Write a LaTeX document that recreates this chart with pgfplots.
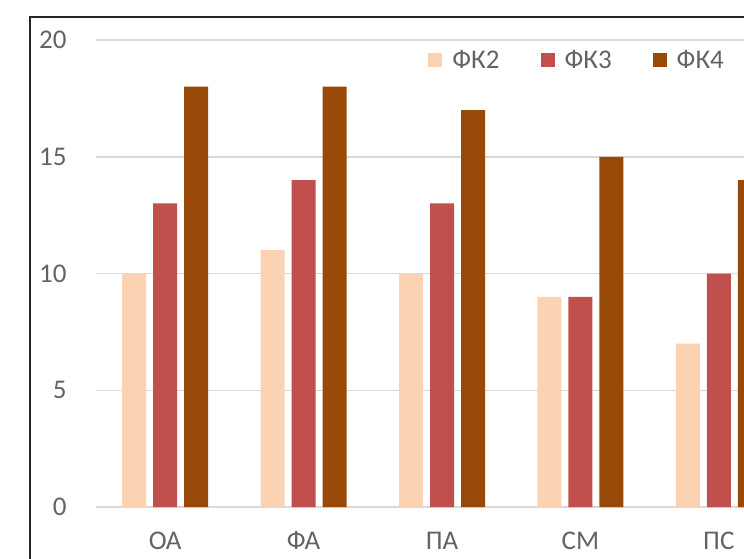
\documentclass[border=0pt]{standalone}
\usepackage{pgfplots}
\pgfplotsset{compat=1.18}
\usepackage{fontspec}
\setmainfont{Carlito}
\definecolor{fkA}{HTML}{FBD3B2}
\definecolor{fkB}{HTML}{C0504D}
\definecolor{fkC}{HTML}{984807}
\definecolor{gridgray}{HTML}{D9D9D9}
\definecolor{txtgray}{HTML}{636363}
\definecolor{framec}{HTML}{262626}
\begin{document}
\begin{tikzpicture}
\useasboundingbox (0,0) rectangle (744pt,558pt);
\clip (0,0) rectangle (744pt,558pt);
\draw[framec, line width=1.8pt] (30pt,-10pt) -- (30pt,541pt) -- (760pt,541pt);
\begin{axis}[
  at={(96pt,51pt)}, anchor=south west,
  scale only axis, width=692pt, height=467pt,
  xmin=-0.5, xmax=4.5, ymin=0, ymax=20,
  ybar=7pt, bar width=24pt,
  axis line style={draw=none},
  tick style={draw=none},
  ymajorgrids, grid style={gridgray, line width=1.5pt},
  ytick={0,5,10,15,20},
  xtick={0,1,2,3,4},
  xticklabels={ОА,ФА,ПА,СМ,ПС},
  /pgf/number format/assume math mode=true,
  tick label style={font=\fontsize{27}{30}\selectfont, text=txtgray},
  yticklabel style={xshift=-26pt},
  xticklabel style={yshift=-17pt},
  legend columns=-1,
  legend style={at={(0.48,0.957)}, anchor=west, draw=none, fill=none,
    inner sep=0pt, font=\fontsize{27}{30}\selectfont, text=txtgray,
    /tikz/every odd column/.append style={column sep=8pt},
    /tikz/every even column/.append style={column sep=39pt}},
  legend image code/.code={\fill[#1] (0pt,-7pt) rectangle (14pt,7pt);},
]
\addplot[fill=fkA, draw=none] coordinates {(0,10) (1,11) (2,10) (3,9) (4,7)};
\addplot[fill=fkB, draw=none] coordinates {(0,13) (1,14) (2,13) (3,9) (4,10)};
\addplot[fill=fkC, draw=none] coordinates {(0,18) (1,18) (2,17) (3,15) (4,14)};
\legend{ФК2,ФК3,ФК4}
\end{axis}
\end{tikzpicture}
\end{document}
